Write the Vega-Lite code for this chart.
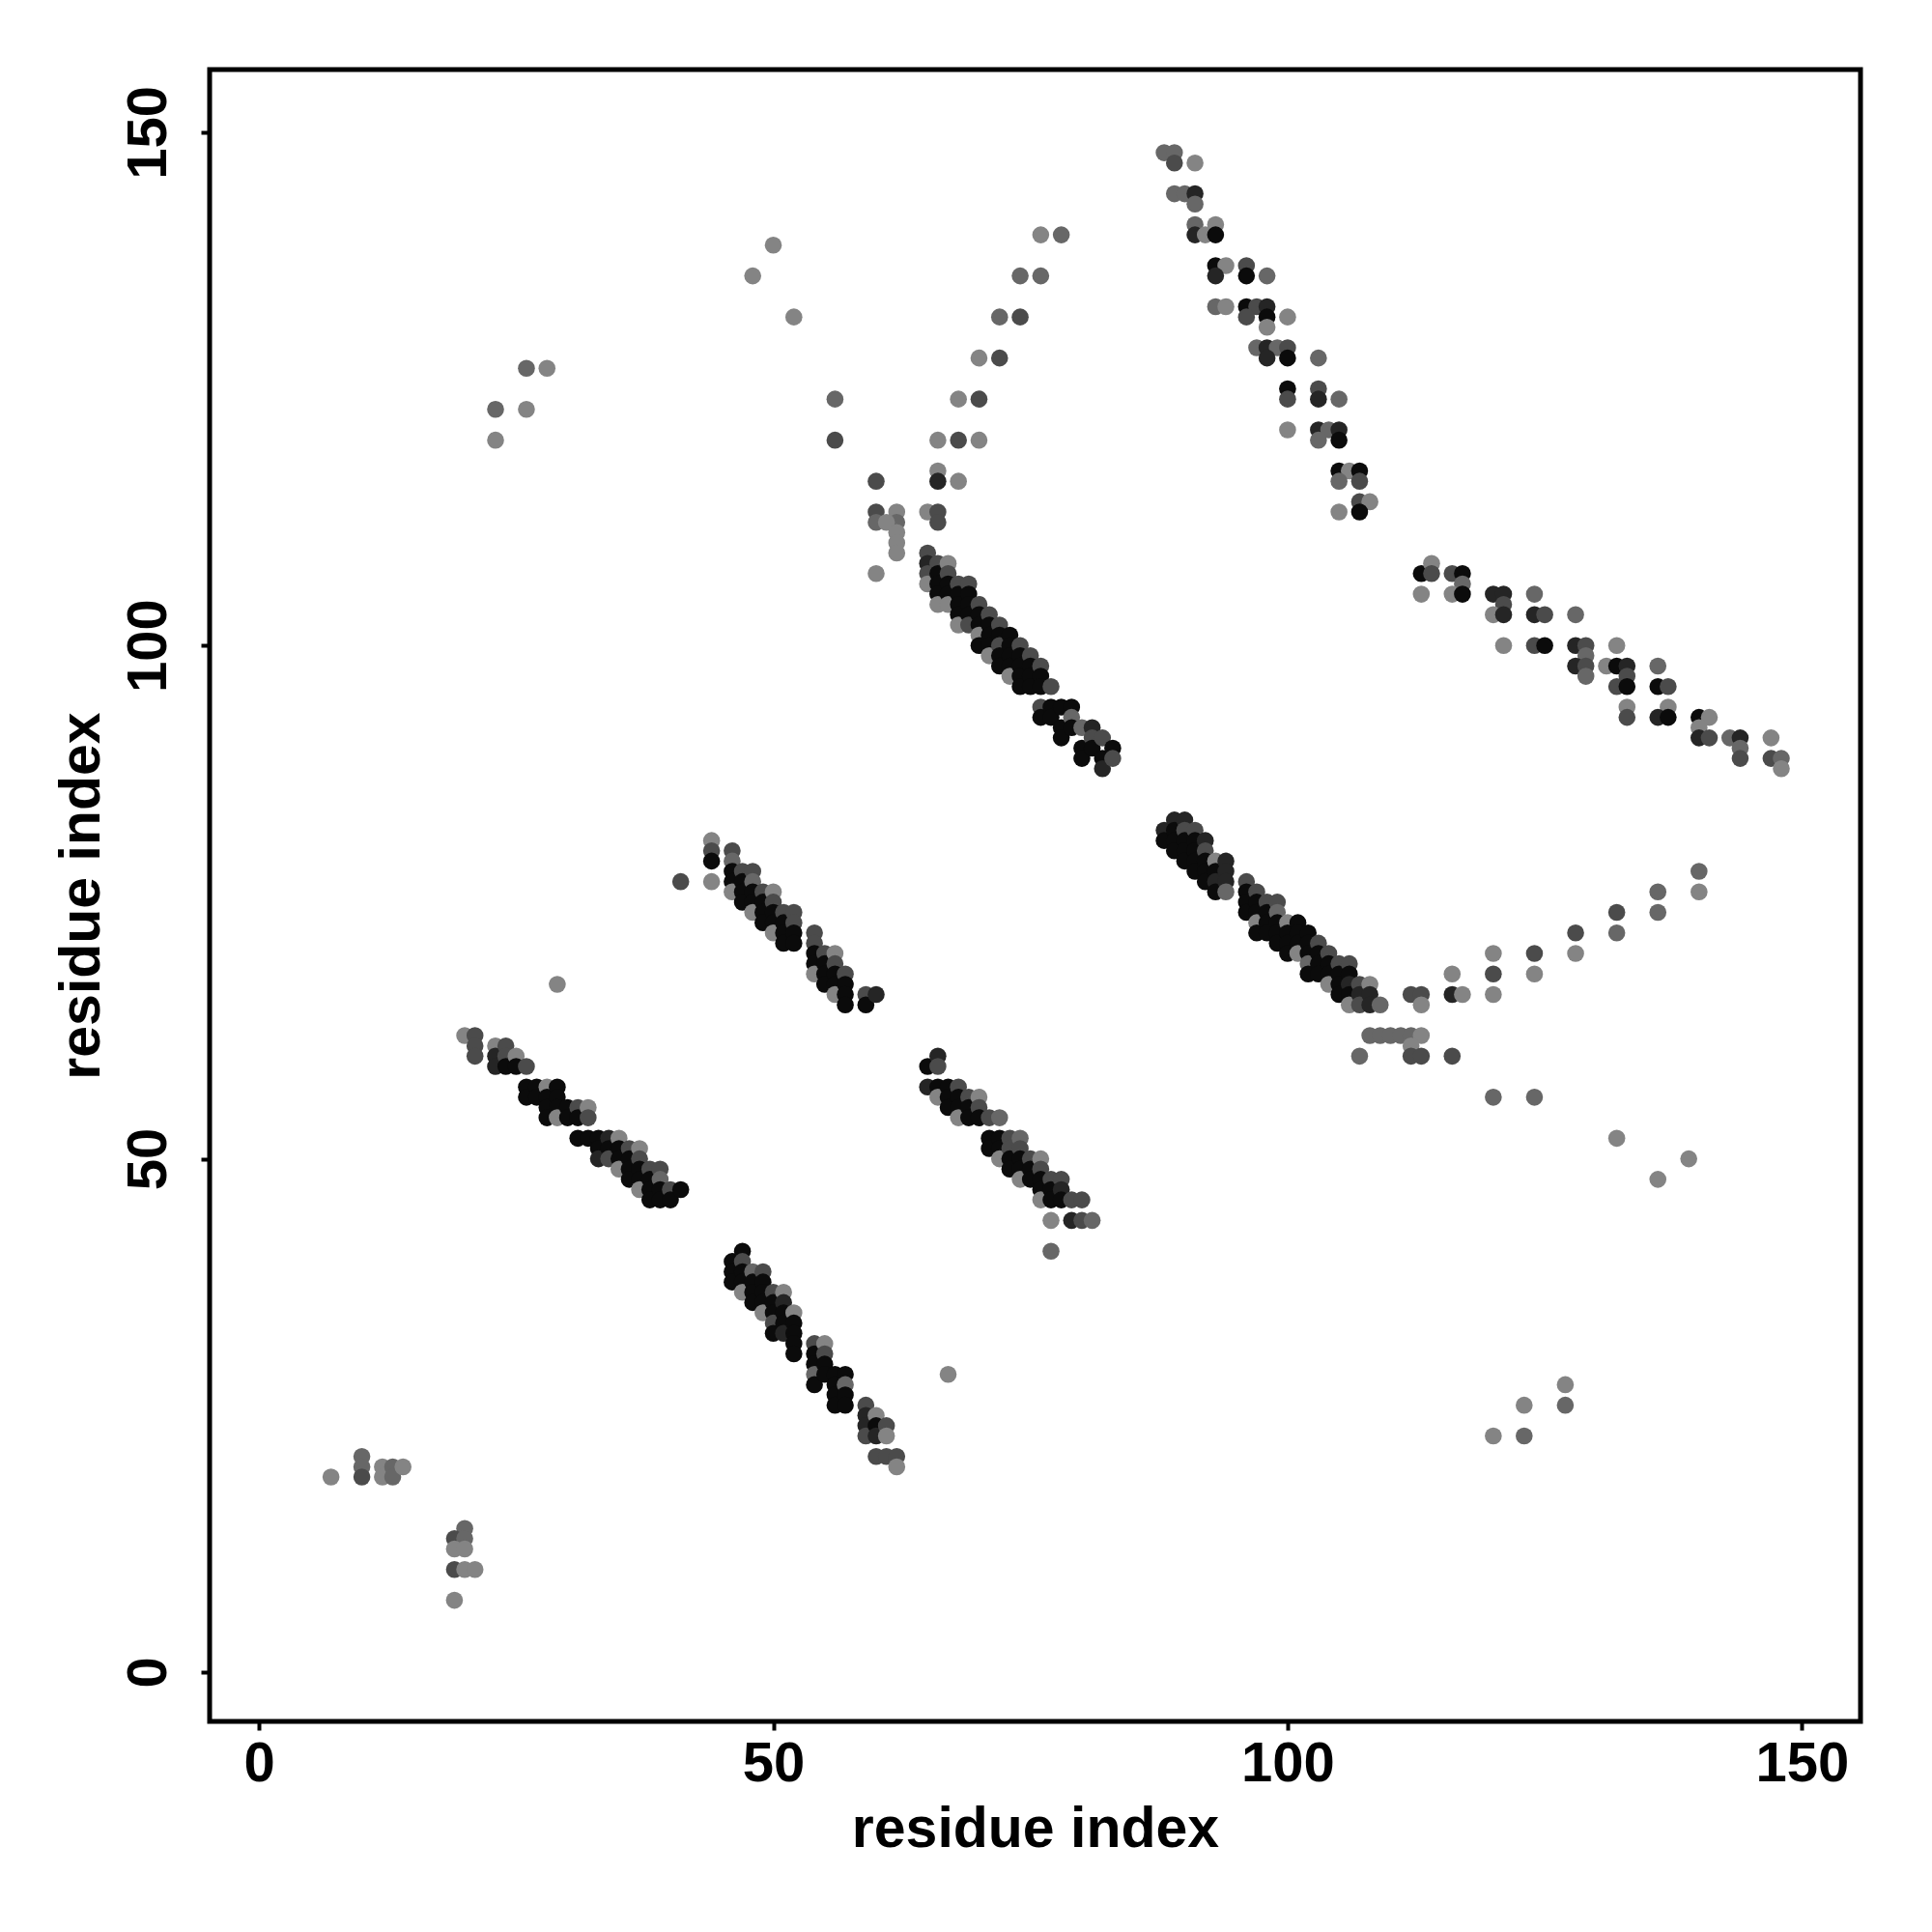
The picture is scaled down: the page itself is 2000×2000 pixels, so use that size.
{
"$schema":"https://vega.github.io/schema/vega-lite/v6.json",
"autosize":{"type":"none"},
"padding":{"left":217,"top":72,"right":74,"bottom":218},
"width":1709,"height":1710,
"background":"white",
"config":{"view":{"stroke":"black","strokeWidth":5}},
"data":{"values":[
{"x":7,"y":19,"p":0.05},{"x":10,"y":21,"p":0.25},{"x":10,"y":20,"p":0.25},{"x":10,"y":19,"p":0.45},{"x":12,"y":20,"p":0.05},{"x":12,"y":19,"p":0.05},{"x":13,"y":20,"p":0.25},{"x":13,"y":19,"p":0.25},{"x":14,"y":20,"p":0.05},
{"x":20,"y":14,"p":0.25},{"x":19,"y":13,"p":0.45},{"x":20,"y":13,"p":0.25},{"x":19,"y":12,"p":0.05},{"x":20,"y":12,"p":0.05},{"x":19,"y":10,"p":0.45},{"x":20,"y":10,"p":0.05},{"x":21,"y":10,"p":0.05},{"x":19,"y":7,"p":0.05},
{"x":50,"y":139,"p":0.05},{"x":48,"y":136,"p":0.05},{"x":52,"y":132,"p":0.05},{"x":26,"y":127,"p":0.25},{"x":28,"y":127,"p":0.05},{"x":23,"y":123,"p":0.25},{"x":26,"y":123,"p":0.05},{"x":23,"y":120,"p":0.05},
{"x":56,"y":124,"p":0.25},{"x":56,"y":120,"p":0.45},{"x":60,"y":116,"p":0.45},{"x":60,"y":113,"p":0.45},{"x":60,"y":112,"p":0.25},{"x":62,"y":113,"p":0.05},{"x":62,"y":112,"p":0.25},{"x":61,"y":112,"p":0.05},{"x":62,"y":111,"p":0.05},{"x":62,"y":110,"p":0.05},{"x":62,"y":109,"p":0.05},{"x":60,"y":107,"p":0.05},
{"x":76,"y":140,"p":0.05},{"x":78,"y":140,"p":0.25},{"x":74,"y":136,"p":0.25},{"x":76,"y":136,"p":0.25},{"x":72,"y":132,"p":0.25},{"x":74,"y":132,"p":0.45},{"x":70,"y":128,"p":0.05},{"x":72,"y":128,"p":0.45},{"x":68,"y":124,"p":0.05},{"x":70,"y":124,"p":0.45},{"x":66,"y":120,"p":0.05},{"x":68,"y":120,"p":0.45},{"x":70,"y":120,"p":0.05},{"x":66,"y":117,"p":0.05},{"x":66,"y":116,"p":0.75},{"x":68,"y":116,"p":0.05},{"x":65,"y":113,"p":0.05},{"x":66,"y":113,"p":0.45},{"x":66,"y":112,"p":0.45},
{"x":65,"y":109,"p":0.45},{"x":65,"y":108,"p":0.75},{"x":65,"y":107,"p":0.45},{"x":65,"y":106,"p":0.05},
{"x":66,"y":108,"p":0.45},{"x":66,"y":107,"p":0.95},{"x":66,"y":106,"p":0.95},{"x":66,"y":105,"p":0.95},{"x":66,"y":104,"p":0.05},
{"x":67,"y":108,"p":0.05},{"x":67,"y":107,"p":0.45},{"x":67,"y":106,"p":0.95},{"x":67,"y":105,"p":0.95},{"x":67,"y":104,"p":0.05},
{"x":68,"y":106,"p":0.45},{"x":68,"y":105,"p":0.95},{"x":68,"y":104,"p":0.95},{"x":68,"y":103,"p":0.95},{"x":68,"y":102,"p":0.05},
{"x":69,"y":106,"p":0.45},{"x":69,"y":105,"p":0.95},{"x":69,"y":104,"p":0.95},{"x":69,"y":103,"p":0.95},{"x":69,"y":102,"p":0.45},
{"x":70,"y":104,"p":0.45},{"x":70,"y":103,"p":0.95},{"x":70,"y":102,"p":0.95},{"x":70,"y":101,"p":0.05},{"x":70,"y":100,"p":0.95},
{"x":71,"y":103,"p":0.45},{"x":71,"y":102,"p":0.95},{"x":71,"y":101,"p":0.95},{"x":71,"y":100,"p":0.95},{"x":71,"y":99,"p":0.05},
{"x":72,"y":102,"p":0.45},{"x":72,"y":101,"p":0.95},{"x":72,"y":100,"p":0.45},{"x":72,"y":99,"p":0.95},{"x":72,"y":98,"p":0.95},
{"x":73,"y":101,"p":0.95},{"x":73,"y":100,"p":0.95},{"x":73,"y":99,"p":0.95},{"x":73,"y":98,"p":0.95},{"x":73,"y":97,"p":0.05},
{"x":74,"y":100,"p":0.45},{"x":74,"y":99,"p":0.95},{"x":74,"y":98,"p":0.95},{"x":74,"y":97,"p":0.95},{"x":74,"y":96,"p":0.95},
{"x":75,"y":99,"p":0.45},{"x":75,"y":98,"p":0.95},{"x":75,"y":97,"p":0.95},{"x":75,"y":96,"p":0.95},
{"x":76,"y":98,"p":0.45},{"x":76,"y":97,"p":0.95},{"x":76,"y":96,"p":0.95},{"x":76,"y":94,"p":0.45},{"x":76,"y":93,"p":0.95},
{"x":77,"y":96,"p":0.45},{"x":77,"y":94,"p":0.95},{"x":77,"y":93,"p":0.95},
{"x":78,"y":94,"p":0.95},{"x":78,"y":92,"p":0.95},{"x":78,"y":91,"p":0.95},
{"x":79,"y":94,"p":0.95},{"x":79,"y":93,"p":0.25},{"x":79,"y":92,"p":0.95},
{"x":80,"y":92,"p":0.25},{"x":80,"y":90,"p":0.95},{"x":80,"y":89,"p":0.95},
{"x":81,"y":92,"p":0.75},{"x":81,"y":91,"p":0.45},{"x":81,"y":90,"p":0.95},
{"x":82,"y":91,"p":0.45},{"x":82,"y":89,"p":0.95},{"x":82,"y":88,"p":0.75},
{"x":83,"y":90,"p":0.95},{"x":83,"y":89,"p":0.45},
{"x":88,"y":148,"p":0.25},{"x":89,"y":148,"p":0.25},{"x":89,"y":147,"p":0.45},{"x":91,"y":147,"p":0.05},
{"x":89,"y":144,"p":0.25},{"x":90,"y":144,"p":0.25},{"x":91,"y":144,"p":0.75},{"x":91,"y":143,"p":0.25},
{"x":91,"y":141,"p":0.25},{"x":93,"y":141,"p":0.05},{"x":91,"y":140,"p":0.75},{"x":92,"y":140,"p":0.05},{"x":93,"y":140,"p":0.95},
{"x":93,"y":137,"p":0.95},{"x":94,"y":137,"p":0.05},{"x":93,"y":136,"p":0.75},{"x":96,"y":137,"p":0.45},{"x":96,"y":136,"p":0.95},{"x":98,"y":136,"p":0.25},
{"x":93,"y":133,"p":0.25},{"x":94,"y":133,"p":0.05},{"x":96,"y":133,"p":0.95},{"x":97,"y":133,"p":0.45},{"x":98,"y":133,"p":0.75},{"x":96,"y":132,"p":0.45},{"x":98,"y":132,"p":0.95},{"x":98,"y":131,"p":0.05},{"x":100,"y":132,"p":0.05},
{"x":97,"y":129,"p":0.25},{"x":98,"y":129,"p":0.75},{"x":99,"y":129,"p":0.25},{"x":100,"y":129,"p":0.45},{"x":98,"y":128,"p":0.75},{"x":100,"y":128,"p":0.95},{"x":103,"y":128,"p":0.25},
{"x":100,"y":125,"p":0.95},{"x":100,"y":124,"p":0.45},{"x":103,"y":125,"p":0.45},{"x":103,"y":124,"p":0.75},{"x":105,"y":124,"p":0.25},
{"x":100,"y":121,"p":0.05},{"x":103,"y":121,"p":0.75},{"x":104,"y":121,"p":0.25},{"x":105,"y":121,"p":0.75},{"x":103,"y":120,"p":0.25},{"x":105,"y":120,"p":0.95},
{"x":105,"y":117,"p":0.95},{"x":106,"y":117,"p":0.05},{"x":107,"y":117,"p":0.95},{"x":105,"y":116,"p":0.25},{"x":107,"y":116,"p":0.45},
{"x":107,"y":114,"p":0.45},{"x":108,"y":114,"p":0.05},{"x":105,"y":113,"p":0.05},{"x":107,"y":113,"p":0.95},
{"x":113,"y":107,"p":0.95},{"x":114,"y":108,"p":0.05},{"x":114,"y":107,"p":0.45},{"x":113,"y":105,"p":0.05},
{"x":116,"y":107,"p":0.45},{"x":117,"y":107,"p":0.95},{"x":117,"y":106,"p":0.25},{"x":116,"y":105,"p":0.05},{"x":117,"y":105,"p":0.95},
{"x":120,"y":105,"p":0.75},{"x":121,"y":105,"p":0.75},{"x":121,"y":104,"p":0.45},{"x":120,"y":103,"p":0.05},{"x":121,"y":103,"p":0.75},{"x":124,"y":105,"p":0.25},{"x":124,"y":103,"p":0.75},{"x":125,"y":103,"p":0.45},{"x":128,"y":103,"p":0.25},
{"x":121,"y":100,"p":0.05},{"x":124,"y":100,"p":0.45},{"x":125,"y":100,"p":0.95},{"x":128,"y":100,"p":0.75},{"x":129,"y":100,"p":0.45},{"x":129,"y":99,"p":0.25},{"x":128,"y":98,"p":0.75},{"x":129,"y":98,"p":0.45},{"x":129,"y":97,"p":0.25},{"x":132,"y":100,"p":0.05},
{"x":131,"y":98,"p":0.05},{"x":132,"y":98,"p":0.95},{"x":133,"y":98,"p":0.75},{"x":133,"y":97,"p":0.45},{"x":132,"y":96,"p":0.45},{"x":133,"y":96,"p":0.95},{"x":133,"y":94,"p":0.05},{"x":133,"y":93,"p":0.45},{"x":136,"y":98,"p":0.25},{"x":136,"y":96,"p":0.95},{"x":137,"y":96,"p":0.45},{"x":137,"y":94,"p":0.05},{"x":136,"y":93,"p":0.75},{"x":137,"y":93,"p":0.95},
{"x":140,"y":93,"p":0.95},{"x":141,"y":93,"p":0.05},{"x":140,"y":92,"p":0.05},{"x":140,"y":91,"p":0.75},{"x":141,"y":91,"p":0.45},{"x":143,"y":91,"p":0.25},{"x":144,"y":91,"p":0.75},{"x":144,"y":90,"p":0.25},{"x":144,"y":89,"p":0.45},{"x":147,"y":91,"p":0.05},{"x":147,"y":89,"p":0.45},{"x":148,"y":89,"p":0.25},{"x":148,"y":88,"p":0.05},
{"x":88,"y":82,"p":0.75},{"x":88,"y":81,"p":0.95},
{"x":89,"y":83,"p":0.75},{"x":89,"y":82,"p":0.95},{"x":89,"y":81,"p":0.95},{"x":89,"y":80,"p":0.95},
{"x":90,"y":83,"p":0.75},{"x":90,"y":82,"p":0.45},{"x":90,"y":81,"p":0.95},{"x":90,"y":80,"p":0.95},{"x":90,"y":79,"p":0.95},
{"x":91,"y":82,"p":0.45},{"x":91,"y":81,"p":0.95},{"x":91,"y":80,"p":0.95},{"x":91,"y":79,"p":0.95},{"x":91,"y":78,"p":0.95},
{"x":92,"y":81,"p":0.75},{"x":92,"y":80,"p":0.45},{"x":92,"y":79,"p":0.95},{"x":92,"y":78,"p":0.95},{"x":92,"y":77,"p":0.95},
{"x":93,"y":79,"p":0.05},{"x":93,"y":78,"p":0.95},{"x":93,"y":77,"p":0.75},{"x":93,"y":76,"p":0.95},
{"x":94,"y":79,"p":0.75},{"x":94,"y":78,"p":0.75},{"x":94,"y":77,"p":0.75},{"x":94,"y":76,"p":0.25},
{"x":96,"y":77,"p":0.45},{"x":96,"y":76,"p":0.95},{"x":96,"y":75,"p":0.95},{"x":96,"y":74,"p":0.95},
{"x":97,"y":76,"p":0.45},{"x":97,"y":75,"p":0.95},{"x":97,"y":74,"p":0.95},{"x":97,"y":73,"p":0.05},{"x":97,"y":72,"p":0.95},
{"x":98,"y":75,"p":0.45},{"x":98,"y":74,"p":0.95},{"x":98,"y":73,"p":0.95},{"x":98,"y":72,"p":0.95},
{"x":99,"y":75,"p":0.45},{"x":99,"y":74,"p":0.25},{"x":99,"y":73,"p":0.95},{"x":99,"y":72,"p":0.95},{"x":99,"y":71,"p":0.95},
{"x":100,"y":73,"p":0.05},{"x":100,"y":72,"p":0.95},{"x":100,"y":71,"p":0.95},{"x":100,"y":70,"p":0.95},
{"x":101,"y":73,"p":0.95},{"x":101,"y":72,"p":0.95},{"x":101,"y":71,"p":0.95},{"x":101,"y":70,"p":0.05},
{"x":102,"y":72,"p":0.95},{"x":102,"y":71,"p":0.95},{"x":102,"y":70,"p":0.95},{"x":102,"y":69,"p":0.25},{"x":102,"y":68,"p":0.95},
{"x":103,"y":71,"p":0.45},{"x":103,"y":70,"p":0.95},{"x":103,"y":69,"p":0.95},{"x":103,"y":68,"p":0.95},
{"x":104,"y":70,"p":0.45},{"x":104,"y":69,"p":0.95},{"x":104,"y":68,"p":0.95},{"x":104,"y":67,"p":0.05},
{"x":105,"y":69,"p":0.45},{"x":105,"y":68,"p":0.95},{"x":105,"y":67,"p":0.95},{"x":105,"y":66,"p":0.95},
{"x":106,"y":69,"p":0.45},{"x":106,"y":68,"p":0.95},{"x":106,"y":67,"p":0.75},{"x":106,"y":66,"p":0.95},{"x":106,"y":65,"p":0.05},
{"x":107,"y":67,"p":0.45},{"x":107,"y":66,"p":0.75},{"x":107,"y":65,"p":0.45},
{"x":108,"y":67,"p":0.05},{"x":108,"y":66,"p":0.75},{"x":108,"y":65,"p":0.75},{"x":109,"y":65,"p":0.25},
{"x":112,"y":66,"p":0.45},{"x":113,"y":66,"p":0.45},{"x":113,"y":65,"p":0.05},
{"x":108,"y":62,"p":0.25},{"x":109,"y":62,"p":0.25},{"x":110,"y":62,"p":0.25},{"x":111,"y":62,"p":0.25},{"x":112,"y":62,"p":0.25},{"x":113,"y":62,"p":0.05},{"x":112,"y":61,"p":0.05},{"x":112,"y":60,"p":0.45},{"x":113,"y":60,"p":0.45},{"x":116,"y":60,"p":0.45},{"x":107,"y":60,"p":0.25},
{"x":116,"y":68,"p":0.05},{"x":116,"y":66,"p":0.75},{"x":117,"y":66,"p":0.05},{"x":120,"y":70,"p":0.05},{"x":120,"y":68,"p":0.45},{"x":120,"y":66,"p":0.05},{"x":124,"y":70,"p":0.45},{"x":124,"y":68,"p":0.05},{"x":128,"y":72,"p":0.45},{"x":128,"y":70,"p":0.05},{"x":132,"y":74,"p":0.45},{"x":132,"y":72,"p":0.25},{"x":136,"y":76,"p":0.25},{"x":136,"y":74,"p":0.25},{"x":140,"y":78,"p":0.25},{"x":140,"y":76,"p":0.05},
{"x":120,"y":56,"p":0.25},{"x":124,"y":56,"p":0.25},{"x":132,"y":52,"p":0.05},{"x":139,"y":50,"p":0.05},{"x":136,"y":48,"p":0.05},
{"x":127,"y":28,"p":0.05},{"x":127,"y":26,"p":0.25},{"x":123,"y":26,"p":0.05},{"x":120,"y":23,"p":0.05},{"x":123,"y":23,"p":0.25},
{"x":29,"y":67,"p":0.05},{"x":41,"y":77,"p":0.45},{"x":67,"y":29,"p":0.05},{"x":77,"y":41,"p":0.25},
{"x":20,"y":62,"p":0.05},{"x":21,"y":62,"p":0.45},{"x":21,"y":61,"p":0.45},{"x":21,"y":60,"p":0.45},
{"x":23,"y":61,"p":0.05},{"x":23,"y":60,"p":0.75},{"x":23,"y":59,"p":0.75},
{"x":24,"y":61,"p":0.45},{"x":24,"y":60,"p":0.45},{"x":24,"y":59,"p":0.95},
{"x":25,"y":60,"p":0.05},{"x":25,"y":59,"p":0.95},{"x":26,"y":59,"p":0.45},{"x":26,"y":57,"p":0.95},{"x":26,"y":56,"p":0.95},
{"x":27,"y":57,"p":0.95},{"x":27,"y":56,"p":0.95},
{"x":28,"y":57,"p":0.05},{"x":28,"y":56,"p":0.95},{"x":28,"y":55,"p":0.95},{"x":28,"y":54,"p":0.95},
{"x":29,"y":57,"p":0.95},{"x":29,"y":56,"p":0.95},{"x":29,"y":55,"p":0.95},{"x":29,"y":54,"p":0.05},
{"x":30,"y":55,"p":0.95},{"x":30,"y":54,"p":0.95},
{"x":31,"y":55,"p":0.45},{"x":31,"y":54,"p":0.95},{"x":31,"y":52,"p":0.95},
{"x":32,"y":55,"p":0.05},{"x":32,"y":54,"p":0.45},{"x":32,"y":52,"p":0.95},
{"x":33,"y":52,"p":0.95},{"x":33,"y":51,"p":0.95},{"x":33,"y":50,"p":0.75},
{"x":34,"y":52,"p":0.75},{"x":34,"y":51,"p":0.95},{"x":34,"y":50,"p":0.45},
{"x":35,"y":52,"p":0.05},{"x":35,"y":51,"p":0.95},{"x":35,"y":50,"p":0.95},{"x":35,"y":49,"p":0.05},
{"x":36,"y":51,"p":0.45},{"x":36,"y":50,"p":0.95},{"x":36,"y":49,"p":0.95},{"x":36,"y":48,"p":0.95},
{"x":37,"y":51,"p":0.05},{"x":37,"y":50,"p":0.45},{"x":37,"y":49,"p":0.95},{"x":37,"y":48,"p":0.95},{"x":37,"y":47,"p":0.05},
{"x":38,"y":49,"p":0.45},{"x":38,"y":48,"p":0.95},{"x":38,"y":47,"p":0.95},{"x":38,"y":46,"p":0.95},
{"x":39,"y":49,"p":0.45},{"x":39,"y":48,"p":0.25},{"x":39,"y":47,"p":0.95},{"x":39,"y":46,"p":0.95},
{"x":40,"y":47,"p":0.45},{"x":40,"y":46,"p":0.95},{"x":41,"y":47,"p":0.95},
{"x":46,"y":40,"p":0.95},{"x":46,"y":39,"p":0.95},{"x":46,"y":38,"p":0.95},
{"x":47,"y":41,"p":0.95},{"x":47,"y":40,"p":0.45},{"x":47,"y":39,"p":0.95},{"x":47,"y":38,"p":0.95},{"x":47,"y":37,"p":0.05},
{"x":48,"y":39,"p":0.25},{"x":48,"y":38,"p":0.95},{"x":48,"y":37,"p":0.95},{"x":48,"y":36,"p":0.95},
{"x":49,"y":39,"p":0.45},{"x":49,"y":38,"p":0.95},{"x":49,"y":37,"p":0.95},{"x":49,"y":36,"p":0.95},{"x":49,"y":35,"p":0.05},
{"x":50,"y":37,"p":0.45},{"x":50,"y":36,"p":0.95},{"x":50,"y":35,"p":0.95},{"x":50,"y":34,"p":0.45},{"x":50,"y":33,"p":0.95},
{"x":51,"y":37,"p":0.05},{"x":51,"y":36,"p":0.75},{"x":51,"y":35,"p":0.95},{"x":51,"y":34,"p":0.95},{"x":51,"y":33,"p":0.75},
{"x":52,"y":35,"p":0.05},{"x":52,"y":34,"p":0.95},{"x":52,"y":33,"p":0.95},{"x":52,"y":32,"p":0.95},{"x":52,"y":31,"p":0.95},
{"x":54,"y":32,"p":0.45},{"x":54,"y":31,"p":0.95},{"x":54,"y":30,"p":0.95},{"x":54,"y":29,"p":0.25},{"x":54,"y":28,"p":0.95},
{"x":55,"y":32,"p":0.05},{"x":55,"y":31,"p":0.45},{"x":55,"y":30,"p":0.95},{"x":55,"y":29,"p":0.95},
{"x":56,"y":29,"p":0.95},{"x":56,"y":28,"p":0.95},{"x":56,"y":27,"p":0.95},{"x":56,"y":26,"p":0.95},
{"x":57,"y":29,"p":0.95},{"x":57,"y":28,"p":0.25},{"x":57,"y":27,"p":0.95},{"x":57,"y":26,"p":0.95},
{"x":59,"y":26,"p":0.45},{"x":59,"y":25,"p":0.75},{"x":59,"y":24,"p":0.75},{"x":59,"y":23,"p":0.45},
{"x":60,"y":25,"p":0.05},{"x":60,"y":24,"p":0.95},{"x":60,"y":23,"p":0.75},{"x":60,"y":21,"p":0.45},
{"x":61,"y":24,"p":0.45},{"x":61,"y":23,"p":0.05},{"x":61,"y":21,"p":0.45},{"x":62,"y":21,"p":0.45},{"x":62,"y":20,"p":0.05},
{"x":44,"y":81,"p":0.05},{"x":44,"y":80,"p":0.45},{"x":44,"y":79,"p":0.95},{"x":44,"y":77,"p":0.05},
{"x":46,"y":80,"p":0.45},{"x":46,"y":79,"p":0.25},{"x":46,"y":78,"p":0.95},{"x":46,"y":77,"p":0.95},{"x":46,"y":76,"p":0.05},
{"x":47,"y":78,"p":0.45},{"x":47,"y":77,"p":0.95},{"x":47,"y":76,"p":0.95},{"x":47,"y":75,"p":0.95},
{"x":48,"y":78,"p":0.45},{"x":48,"y":77,"p":0.25},{"x":48,"y":76,"p":0.95},{"x":48,"y":75,"p":0.95},{"x":48,"y":74,"p":0.05},
{"x":49,"y":76,"p":0.45},{"x":49,"y":75,"p":0.95},{"x":49,"y":74,"p":0.95},{"x":49,"y":73,"p":0.95},
{"x":50,"y":76,"p":0.05},{"x":50,"y":75,"p":0.45},{"x":50,"y":74,"p":0.95},{"x":50,"y":73,"p":0.95},{"x":50,"y":72,"p":0.05},
{"x":51,"y":74,"p":0.45},{"x":51,"y":73,"p":0.95},{"x":51,"y":72,"p":0.95},{"x":51,"y":71,"p":0.95},
{"x":52,"y":74,"p":0.45},{"x":52,"y":73,"p":0.45},{"x":52,"y":72,"p":0.95},{"x":52,"y":71,"p":0.95},
{"x":54,"y":72,"p":0.45},{"x":54,"y":71,"p":0.45},{"x":54,"y":70,"p":0.95},{"x":54,"y":69,"p":0.95},{"x":54,"y":68,"p":0.05},
{"x":55,"y":70,"p":0.45},{"x":55,"y":69,"p":0.95},{"x":55,"y":68,"p":0.95},{"x":55,"y":67,"p":0.95},
{"x":56,"y":70,"p":0.05},{"x":56,"y":69,"p":0.45},{"x":56,"y":68,"p":0.95},{"x":56,"y":67,"p":0.95},{"x":56,"y":66,"p":0.05},
{"x":57,"y":68,"p":0.45},{"x":57,"y":67,"p":0.95},{"x":57,"y":66,"p":0.95},{"x":57,"y":65,"p":0.95},
{"x":59,"y":66,"p":0.45},{"x":59,"y":65,"p":0.95},{"x":60,"y":66,"p":0.75},
{"x":65,"y":59,"p":0.95},{"x":65,"y":57,"p":0.75},
{"x":66,"y":60,"p":0.75},{"x":66,"y":59,"p":0.45},{"x":66,"y":57,"p":0.95},{"x":66,"y":56,"p":0.05},
{"x":67,"y":57,"p":0.95},{"x":67,"y":56,"p":0.95},{"x":67,"y":55,"p":0.95},
{"x":68,"y":57,"p":0.45},{"x":68,"y":56,"p":0.95},{"x":68,"y":55,"p":0.95},{"x":68,"y":54,"p":0.05},
{"x":69,"y":56,"p":0.45},{"x":69,"y":55,"p":0.95},{"x":69,"y":54,"p":0.95},
{"x":70,"y":56,"p":0.05},{"x":70,"y":55,"p":0.45},{"x":70,"y":54,"p":0.95},
{"x":71,"y":54,"p":0.45},{"x":71,"y":52,"p":0.95},{"x":71,"y":51,"p":0.95},
{"x":72,"y":54,"p":0.25},{"x":72,"y":52,"p":0.95},{"x":72,"y":51,"p":0.95},{"x":72,"y":50,"p":0.05},
{"x":73,"y":52,"p":0.45},{"x":73,"y":51,"p":0.45},{"x":73,"y":50,"p":0.95},{"x":73,"y":49,"p":0.95},
{"x":74,"y":52,"p":0.25},{"x":74,"y":51,"p":0.45},{"x":74,"y":50,"p":0.95},{"x":74,"y":49,"p":0.95},{"x":74,"y":48,"p":0.05},
{"x":75,"y":50,"p":0.45},{"x":75,"y":49,"p":0.95},{"x":75,"y":48,"p":0.95},
{"x":76,"y":50,"p":0.05},{"x":76,"y":49,"p":0.45},{"x":76,"y":48,"p":0.95},{"x":76,"y":47,"p":0.95},{"x":76,"y":46,"p":0.05},
{"x":77,"y":48,"p":0.45},{"x":77,"y":47,"p":0.95},{"x":77,"y":46,"p":0.95},
{"x":78,"y":48,"p":0.45},{"x":78,"y":47,"p":0.75},{"x":78,"y":46,"p":0.95},
{"x":79,"y":46,"p":0.45},{"x":79,"y":44,"p":0.75},{"x":80,"y":46,"p":0.45},{"x":80,"y":44,"p":0.45},{"x":81,"y":44,"p":0.25},{"x":77,"y":44,"p":0.05}
]},
"mark":{"type":"circle","size":310,"opacity":1,"strokeWidth":0},
"encoding":{
"x":{"field":"x","type":"quantitative","scale":{"domain":[-4.8,155.7],"nice":false,"zero":false},
"axis":{"title":"residue index","values":[0,50,100,150],"format":"d","domain":false,"grid":false,"tickSize":9,"tickWidth":4,"tickColor":"black","labelFont":"Liberation Sans","labelFontWeight":"bold","labelFontSize":58,"labelColor":"black","labelPadding":6,"labelFlush":false,"labelOverlap":false,"titleFont":"Liberation Sans","titleFontWeight":"bold","titleFontSize":59,"titleColor":"black","titleY":129,"titleBaseline":"alphabetic"}},
"y":{"field":"y","type":"quantitative","scale":{"domain":[-4.8,156.1],"nice":false,"zero":false},
"axis":{"title":"residue index","values":[0,50,100,150],"format":"d","domain":false,"grid":false,"tickSize":9,"tickWidth":4,"tickColor":"black","labelFont":"Liberation Sans","labelFontWeight":"bold","labelFontSize":58,"labelColor":"black","labelAngle":270,"labelAlign":"center","labelBaseline":"bottom","labelPadding":25,"labelFlush":false,"labelOverlap":false,"titleFont":"Liberation Sans","titleFontWeight":"bold","titleFontSize":59,"titleColor":"black","titleAngle":270,"titleX":-115,"titleBaseline":"alphabetic"}},
"color":{"field":"p","type":"quantitative","scale":{"domain":[0,1],"range":["#8c8c8c","#000000"]},"legend":null}
}
}
